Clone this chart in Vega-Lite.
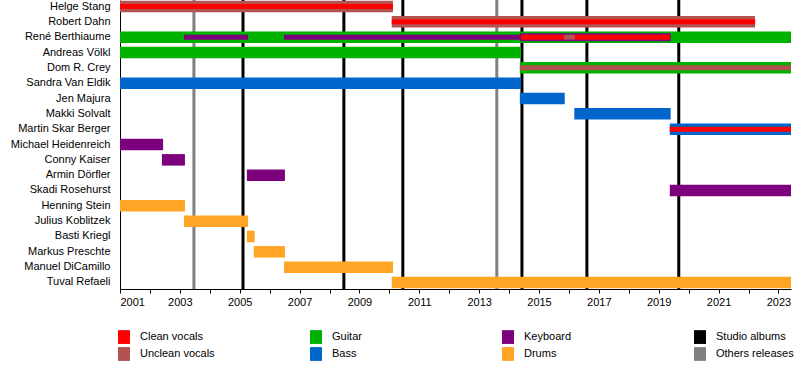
{
  "$schema": "https://vega.github.io/schema/vega-lite/v6.json",
  "autosize": {"type": "none"},
  "width": 671,
  "height": 289,
  "padding": {"left": 120, "top": 0, "right": 9, "bottom": 99},
  "background": "white",
  "config": {
    "view": {"stroke": null},
    "font": "Liberation Sans",
    "axis": {"labelFont": "Liberation Sans", "labelColor": "black", "labelFontSize": 11, "grid": false, "domainColor": "black", "tickColor": "black", "title": null}
  },
  "datasets": {
    "spans": [
      {"member": "Helge Stang", "role": "Unclean vocals", "tier": "primary", "start": 2001.0, "end": 2010.12},
      {"member": "Helge Stang", "role": "Clean vocals", "tier": "accent", "start": 2001.0, "end": 2010.12},
      {"member": "Robert Dahn", "role": "Unclean vocals", "tier": "primary", "start": 2010.08, "end": 2022.22},
      {"member": "Robert Dahn", "role": "Clean vocals", "tier": "accent", "start": 2010.08, "end": 2022.22},
      {"member": "René Berthiaume", "role": "Guitar", "tier": "primary", "start": 2001.0, "end": 2023.42},
      {"member": "René Berthiaume", "role": "Keyboard", "tier": "accent", "start": 2003.14, "end": 2005.28},
      {"member": "René Berthiaume", "role": "Keyboard", "tier": "accent", "start": 2006.48, "end": 2014.36},
      {"member": "René Berthiaume", "role": "Keyboard", "tier": "underlay", "start": 2014.36, "end": 2019.4},
      {"member": "René Berthiaume", "role": "Clean vocals", "tier": "accent", "start": 2014.4, "end": 2015.83},
      {"member": "René Berthiaume", "role": "Unclean vocals", "tier": "accent", "start": 2015.83, "end": 2016.2},
      {"member": "René Berthiaume", "role": "Clean vocals", "tier": "accent", "start": 2016.2, "end": 2019.37},
      {"member": "Andreas Völkl", "role": "Guitar", "tier": "primary", "start": 2001.0, "end": 2014.4},
      {"member": "Dom R. Crey", "role": "Guitar", "tier": "primary", "start": 2014.36, "end": 2023.42},
      {"member": "Dom R. Crey", "role": "Unclean vocals", "tier": "accent", "start": 2014.36, "end": 2023.42},
      {"member": "Sandra Van Eldik", "role": "Bass", "tier": "primary", "start": 2001.0, "end": 2014.4},
      {"member": "Jen Majura", "role": "Bass", "tier": "primary", "start": 2014.36, "end": 2015.86},
      {"member": "Makki Solvalt", "role": "Bass", "tier": "primary", "start": 2016.18, "end": 2019.4},
      {"member": "Martin Skar Berger", "role": "Bass", "tier": "primary", "start": 2019.37, "end": 2023.42},
      {"member": "Martin Skar Berger", "role": "Clean vocals", "tier": "accent", "start": 2019.37, "end": 2023.42},
      {"member": "Michael Heidenreich", "role": "Keyboard", "tier": "primary", "start": 2001.0, "end": 2002.44},
      {"member": "Conny Kaiser", "role": "Keyboard", "tier": "primary", "start": 2002.4, "end": 2003.17},
      {"member": "Armin Dörfler", "role": "Keyboard", "tier": "primary", "start": 2005.24, "end": 2006.51},
      {"member": "Skadi Rosehurst", "role": "Keyboard", "tier": "primary", "start": 2019.37, "end": 2023.42},
      {"member": "Henning Stein", "role": "Drums", "tier": "primary", "start": 2001.0, "end": 2003.17},
      {"member": "Julius Koblitzek", "role": "Drums", "tier": "primary", "start": 2003.14, "end": 2005.28},
      {"member": "Basti Kriegl", "role": "Drums", "tier": "primary", "start": 2005.24, "end": 2005.5},
      {"member": "Markus Preschte", "role": "Drums", "tier": "primary", "start": 2005.47, "end": 2006.51},
      {"member": "Manuel DiCamillo", "role": "Drums", "tier": "primary", "start": 2006.48, "end": 2010.12},
      {"member": "Tuval Refaeli", "role": "Drums", "tier": "primary", "start": 2010.08, "end": 2023.42}
    ],
    "releases": [
      {"year": 2003.47, "kind": "Others releases"},
      {"year": 2005.11, "kind": "Studio albums"},
      {"year": 2008.48, "kind": "Studio albums"},
      {"year": 2010.45, "kind": "Studio albums"},
      {"year": 2013.59, "kind": "Others releases"},
      {"year": 2014.43, "kind": "Studio albums"},
      {"year": 2016.6, "kind": "Studio albums"},
      {"year": 2019.67, "kind": "Studio albums"}
    ]
  },
  "encoding": {
    "x": {
      "type": "quantitative",
      "scale": {"domain": [2001, 2023.42], "nice": false, "zero": false},
      "axis": {
        "values": [2001,2002,2003,2004,2005,2006,2007,2008,2009,2010,2011,2012,2013,2014,2015,2016,2017,2018,2019,2020,2021,2022,2023],
        "labelExpr": "datum.value % 2 == 1 ? format(datum.value, 'd') : ''",
        "tickSize": 4,
        "labelPadding": 3,
        "domainWidth": 1
      }
    }
  },
  "layer": [
    {
      "data": {"name": "releases"},
      "mark": {"type": "rule", "strokeWidth": 3},
      "encoding": {
        "x": {"field": "year", "type": "quantitative"},
        "color": {"field": "kind", "type": "nominal"}
      }
    },
    {
      "data": {"name": "spans"},
      "transform": [{"filter": "datum.tier == 'primary'"}],
      "mark": {"type": "bar", "cornerRadius": 0},
      "encoding": {
        "x": {"field": "start", "type": "quantitative"},
        "x2": {"field": "end"},
        "y": {
          "field": "member", "type": "nominal",
          "sort": ["Helge Stang","Robert Dahn","René Berthiaume","Andreas Völkl","Dom R. Crey","Sandra Van Eldik","Jen Majura","Makki Solvalt","Martin Skar Berger","Michael Heidenreich","Conny Kaiser","Armin Dörfler","Skadi Rosehurst","Henning Stein","Julius Koblitzek","Basti Kriegl","Markus Preschte","Manuel DiCamillo","Tuval Refaeli"],
          "scale": {"paddingInner": 0.25, "paddingOuter": 0.05},
          "axis": {"ticks": false, "labelPadding": 10, "domainWidth": 1}
        },
        "color": {
          "field": "role", "type": "nominal",
          "scale": {
            "domain": ["Clean vocals","Unclean vocals","Guitar","Bass","Keyboard","Drums","Studio albums","Others releases"],
            "range": ["#ff0000","#b45252","#00b200","#0066cc","#7d007d","#ffa526","#000000","#808080"]
          },
          "legend": {
            "title": null,
            "orient": "none",
            "legendX": -2,
            "legendY": 331,
            "columns": 4,
            "gridAlign": "all",
            "columnPadding": 92,
            "rowPadding": 3,
            "padding": 0,
            "symbolType": "M-1,-1.15H1V1.15H-1Z",
            "symbolSize": 144,
            "symbolStrokeWidth": 0,
            "symbolOpacity": 1,
            "labelOffset": 10,
            "labelFont": "Liberation Sans",
            "labelFontSize": 11,
            "labelColor": "black",
            "labelLimit": 200
          }
        }
      }
    },
    {
      "data": {"name": "spans"},
      "transform": [{"filter": "datum.tier == 'underlay'"}],
      "mark": {"type": "bar", "height": 8},
      "encoding": {
        "x": {"field": "start", "type": "quantitative"},
        "x2": {"field": "end"},
        "y": {"field": "member", "type": "nominal", "sort": ["Helge Stang","Robert Dahn","René Berthiaume","Andreas Völkl","Dom R. Crey","Sandra Van Eldik","Jen Majura","Makki Solvalt","Martin Skar Berger","Michael Heidenreich","Conny Kaiser","Armin Dörfler","Skadi Rosehurst","Henning Stein","Julius Koblitzek","Basti Kriegl","Markus Preschte","Manuel DiCamillo","Tuval Refaeli"]},
        "color": {"field": "role", "type": "nominal"}
      }
    },
    {
      "data": {"name": "spans"},
      "transform": [{"filter": "datum.tier == 'accent'"}],
      "mark": {"type": "bar", "height": 5},
      "encoding": {
        "x": {"field": "start", "type": "quantitative"},
        "x2": {"field": "end"},
        "y": {"field": "member", "type": "nominal", "sort": ["Helge Stang","Robert Dahn","René Berthiaume","Andreas Völkl","Dom R. Crey","Sandra Van Eldik","Jen Majura","Makki Solvalt","Martin Skar Berger","Michael Heidenreich","Conny Kaiser","Armin Dörfler","Skadi Rosehurst","Henning Stein","Julius Koblitzek","Basti Kriegl","Markus Preschte","Manuel DiCamillo","Tuval Refaeli"]},
        "color": {"field": "role", "type": "nominal"}
      }
    }
  ]
}
